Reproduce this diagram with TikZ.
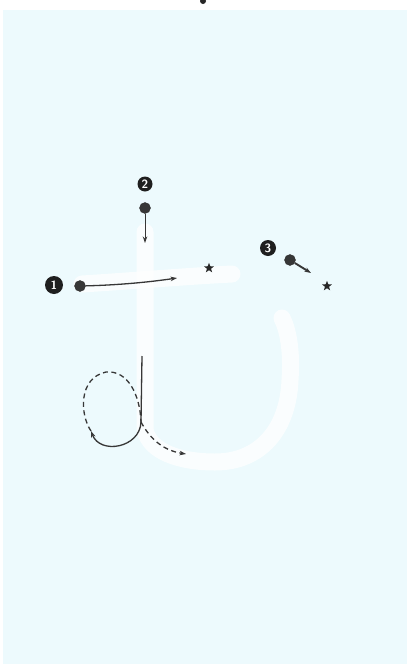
\documentclass[tikz,border=0pt]{standalone}
\usetikzlibrary{shapes.geometric,arrows.meta}
\definecolor{bgcyan}{RGB}{237,250,253}
\definecolor{inkgrey}{RGB}{55,55,55}
\begin{document}
\begin{tikzpicture}[x=1pt,y=-1pt,
  numlabel/.style={circle,fill=black!88,text=white,font=\sffamily\bfseries\fontsize{12}{12}\selectfont,inner sep=0pt,minimum size=16pt},
  startdot/.style={circle,fill=inkgrey,draw=black!80,line width=0.4pt,inner sep=0pt,minimum size=11pt},
  endstar/.style={star,star points=5,star point ratio=2.4,fill=black!85,inner sep=0pt,minimum size=10.5pt},
  ghost/.style={white,line width=17pt,line cap=round,line join=round,opacity=0.75},
  guide/.style={inkgrey,line width=1.3pt},
  tip/.style={-{Stealth[length=6.5pt,width=4.5pt]}}
]
\useasboundingbox (0,0) rectangle (407,664);
\fill[white] (0,0) rectangle (407,664);
\fill[bgcyan] (3,10) rectangle (407,664);
% ghost character strokes
\draw[ghost] (82,284) .. controls (130,281) and (190,276) .. (232,274);
\draw[ghost] (145,232) -- (145,430) .. controls (150,452) and (180,462) .. (215,462)
  .. controls (260,462) and (288,430) .. (290,380) .. controls (292,350) and (288,330) .. (282,318);
% top dot
\fill[black!85] (203,1) circle (3);
% labels and start dots
\node[numlabel,minimum size=18pt] (n1) at (54,285) {1};
\node[numlabel,minimum size=15pt] (n2) at (145,184) {2};
\node[numlabel] (n3) at (268,248) {3};
\node[startdot] (d1) at (80,286) {};
\node[startdot] (d2) at (145,208) {};
\node[startdot] (d3) at (290,260) {};
\node[endstar] (s1) at (209,268) {};
\node[endstar] (s3) at (327,286) {};
\coordinate (e1) at (177,278);
\coordinate (e2) at (145,243);
\coordinate (e3) at (311,273);
\draw[guide,tip] (d1) .. controls (120,285) and (150,282) .. (e1);
\draw[guide,line width=1pt,tip] (d2) -- (e2);
\draw[guide,line width=1.9pt,tip] (d3) -- (e3);
% loop of stroke 2
\coordinate (v0) at (142,356);
\coordinate (v1) at (141,422);
\coordinate (la) at (91,431);
\coordinate (e4) at (186,454);
\draw[guide,tip] (v0) -- (v1) .. controls (140,448) and (100,455) .. (la);
\draw[guide,dashed,dash pattern=on 5pt off 3.5pt] (la) .. controls (80,415) and (78,378) .. (106,372)
  .. controls (128,370) and (140,395) .. (v1);
\draw[guide,dashed,dash pattern=on 5pt off 3.5pt,tip] (v1) .. controls (148,435) and (160,450) .. (e4);
\end{tikzpicture}
\end{document}
